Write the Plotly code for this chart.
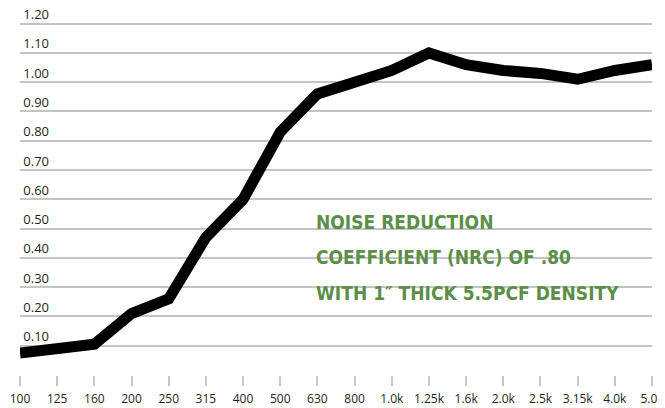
import plotly.graph_objects as go

freqs = ["100", "125", "160", "200", "250", "315", "400", "500", "630", "800",
         "1.0k", "1.25k", "1.6k", "2.0k", "2.5k", "3.15k", "4.0k", "5.0k"]
absorption = [0.075, 0.09, 0.105, 0.21, 0.26, 0.47, 0.60, 0.83, 0.96, 1.00,
              1.04, 1.10, 1.06, 1.04, 1.03, 1.01, 1.04, 1.06]
y_ticks = [0.10, 0.20, 0.30, 0.40, 0.50, 0.60, 0.70, 0.80, 0.90, 1.00, 1.10, 1.20]
y_labels = ["0.10", "0.20", "0.30", "0.40", "0.50", "0.60", "0.70", "0.80",
            "0.90", "1.00", "1.10", "1.20"]
note_lines = ["NOISE REDUCTION", "COEFFICIENT (NRC) OF .80", "WITH 1\u2033 THICK 5.5PCF DENSITY"]
note_y = [0.419, 0.323, 0.224]

fig = go.Figure()
fig.add_trace(go.Scatter(
    x=freqs, y=absorption, mode="lines",
    line=dict(color="#000000", width=11),
    hoverinfo="skip", showlegend=False,
))

annotations = [
    dict(xref="paper", yref="paper", x=0.465, y=yy,
         xanchor="left", yanchor="middle", align="left",
         text=t, showarrow=False,
         font=dict(family="DejaVu Sans Condensed, DejaVu Sans", size=19,
                   color="#5b8e46", weight="bold"))
    for t, yy in zip(note_lines, note_y)
]

fig.update_layout(
    width=657, height=400,
    margin=dict(l=12, r=13, t=1, b=32.7, autoexpand=False),
    paper_bgcolor="white", plot_bgcolor="white",
    font=dict(family="Open Sans", color="#231f20"),
    xaxis=dict(
        type="category", range=[0, len(freqs) - 1], automargin=False,
        showgrid=False, showline=False, zeroline=False,
        ticks="outside", ticklen=10, tickwidth=2, tickcolor="#c8c8c8",
        ticklabelstandoff=3,
        tickfont=dict(size=12, color="#231f20"),
    ),
    yaxis=dict(
        range=[0, 1.25], tickvals=y_ticks, ticktext=y_labels, automargin=False,
        ticklabelposition="outside top", ticklabelstandoff=-30,
        ticklabeloverflow="allow",
        showgrid=True, gridcolor="#c4c4c4", gridwidth=2,
        zeroline=False, showline=False, ticks="",
        tickfont=dict(size=13, color="#231f20"),
    ),
    annotations=annotations,
)

fig.write_html("out.html")
